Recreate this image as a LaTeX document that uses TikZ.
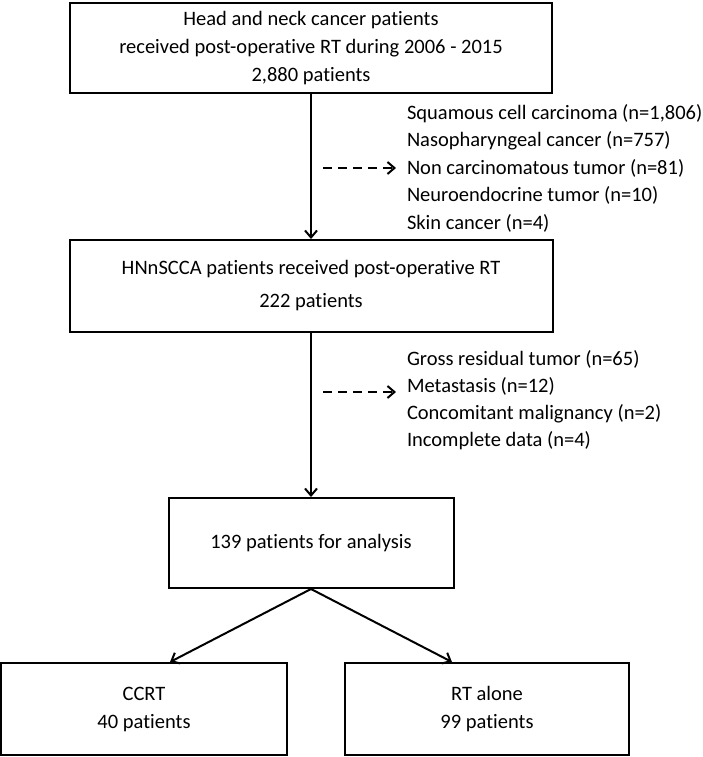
\documentclass[tikz,border=0pt]{standalone}
\usepackage{fontspec}
\setmainfont{Carlito}[Ligatures=NoCommon]
\usetikzlibrary{arrows.meta,positioning}

\begin{document}
\begin{tikzpicture}[x=1pt,y=1pt,->,>={Straight Barb[length=7pt,width=12pt]},line width=2pt,
		box/.style={draw,rectangle,align=center,font=\fontsize{20.5}{28}\selectfont},
		excl/.style={align=left,inner sep=0pt,anchor=west,font=\fontsize{20.5}{27.5}\selectfont},
		excluded/.style={dash pattern=on 9pt off 6pt}]

		\useasboundingbox (0,0) rectangle (703,-757);

		\node[box,minimum width=482pt,minimum height=90pt] (all) at (311,-48)
			{Head and neck cancer patients\\received post-operative RT during 2006 - 2015\\2,880 patients};
		\node[box,minimum width=483pt,minimum height=92pt] (hn) [below of=all, node distance=238pt]
			{HNnSCCA patients received post-operative RT\\[5pt]222 patients};
		\node[box,minimum width=285pt,minimum height=90pt] (ana) [below of=hn, node distance=257pt]
			{139 patients for analysis};
		\node[box,minimum width=286pt,minimum height=92pt] (ccrt) [below of=ana, node distance=166pt, xshift=-167pt]
			{CCRT\\40 patients};
		\node[box,minimum width=284pt,minimum height=92pt] (rt) [below of=ana, node distance=166pt, xshift=176pt]
			{RT alone\\99 patients};

		\node[excl] (ex1) at (406,-168) {Squamous cell carcinoma (n=1,806)\\Nasopharyngeal cancer (n=757)\\Non carcinomatous tumor (n=81)\\Neuroendocrine tumor (n=10)\\Skin cancer (n=4)};
		\node[excl,font=\fontsize{20.5}{27}\selectfont] (ex2) at (406,-400) {Gross residual tumor (n=65)\\Metastasis (n=12)\\Concomitant malignancy (n=2)\\Incomplete data (n=4)};

		\coordinate (d1) at (323,-168);
		\coordinate (d2) at (323,-392);

		\draw (all.south) -- (all.south |- hn.north);
		\draw (hn.south) -- (hn.south |- ana.north);
		\draw[excluded] (d1) -- ([xshift=-10pt]d1 -| ex1.west);
		\draw[excluded] (d2) -- ([xshift=-10pt]d2 -| ex2.west);

		\draw (ana.south) -- ([xshift=26pt]ccrt.north);
		\draw (ana.south) -- ([xshift=-35pt]rt.north);

\end{tikzpicture}
\end{document}
